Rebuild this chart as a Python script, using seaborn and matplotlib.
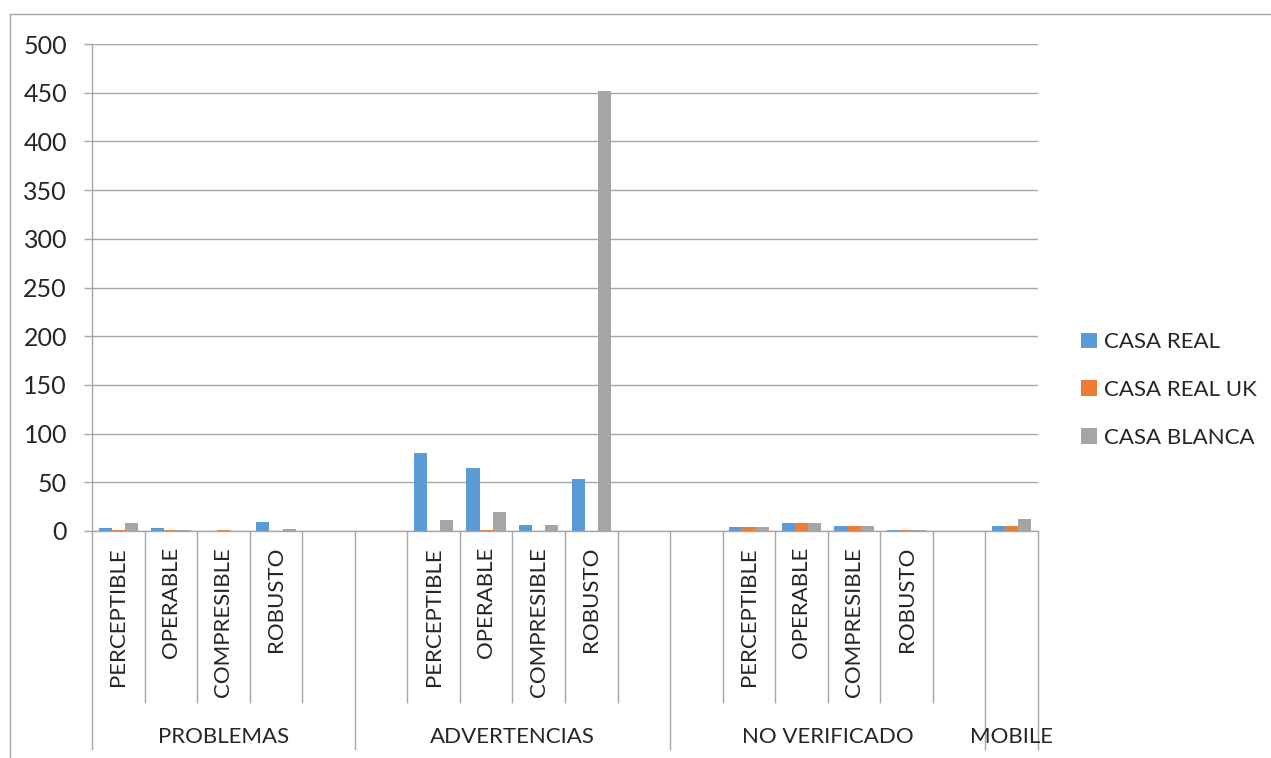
import numpy as np
import pandas as pd
import matplotlib.pyplot as plt
from matplotlib.lines import Line2D
import seaborn as sns

# Category layout (two levels) and series values
groups = ["PROBLEMAS"] * 5 + ["ADVERTENCIAS"] * 6 + ["NO VERIFICADO"] * 6 + ["MOBILE"]
subcats = ["PERCEPTIBLE", "OPERABLE", "COMPRESIBLE", "ROBUSTO", "",
           "", "PERCEPTIBLE", "OPERABLE", "COMPRESIBLE", "ROBUSTO", "",
           "", "PERCEPTIBLE", "OPERABLE", "COMPRESIBLE", "ROBUSTO", "",
           ""]
casa_real = [3, 3, 0, 9, 0,
             0, 80, 65, 6, 53, 0,
             0, 4, 8, 5, 1, 0,
             5]
casa_real_uk = [1, 1, 1, 0, 0,
                0, 0, 1, 0, 0, 0,
                0, 4, 8, 5, 1, 0,
                5]
casa_blanca = [8, 1, 0, 2, 0,
               0, 11, 19, 6, 452, 0,
               0, 4, 8, 5, 1, 0,
               12]
series = ["CASA REAL", "CASA REAL UK", "CASA BLANCA"]
colors = ["#5B9BD5", "#ED7D31", "#A5A5A5"]
yticks = list(range(0, 501, 50))

slots = list(range(len(subcats)))
df = pd.DataFrame({
    "slot": slots * 3,
    "serie": np.repeat(series, len(slots)),
    "valor": casa_real + casa_real_uk + casa_blanca,
})

sns.set_style("white")
plt.rcParams["font.family"] = ["Lato", "DejaVu Sans"]
FS = 16
grid_col = "#a6a6a6"

fig = plt.figure(figsize=(12.71, 7.58), dpi=100)
ax = fig.add_axes([92 / 1271, 1 - 531 / 758, 946 / 1271, 487 / 758])

sns.barplot(data=df, x="slot", y="valor", hue="serie", order=slots,
            hue_order=series, palette=colors, width=0.75, gap=0,
            saturation=1, linewidth=0, errorbar=None, ax=ax)

ax.set_ylim(0, 500)
ax.set_yticks(yticks)
ax.set_xlabel("")
ax.set_ylabel("")
ax.yaxis.grid(True, color=grid_col, linewidth=1)
ax.set_axisbelow(True)
for s in ["top", "right"]:
    ax.spines[s].set_visible(False)
for s in ["left", "bottom"]:
    ax.spines[s].set_color(grid_col)
    ax.spines[s].set_linewidth(1)
ax.tick_params(axis="y", length=6, color=grid_col, width=1, pad=12, labelsize=18, left=True)

# category separators drawn as long ticks below the axis
n = len(subcats)
bounds = [i - 0.5 for i in range(n + 1)]
group_bounds = [-0.5]
for i in range(1, n):
    if groups[i] != groups[i - 1]:
        group_bounds.append(i - 0.5)
group_bounds.append(n - 0.5)
ax.set_xticks(group_bounds)
ax.set_xticklabels([""] * len(group_bounds))
ax.set_xticks([b for b in bounds if b not in group_bounds], minor=True)
ax.tick_params(axis="x", which="major", length=158, color=grid_col, width=1, bottom=True)
ax.tick_params(axis="x", which="minor", length=124, color=grid_col, width=1, bottom=True)

trans = ax.get_xaxis_transform()
for i, lab in enumerate(subcats):
    if lab:
        ax.text(i, -0.033, lab, rotation=90, ha="center", va="top",
                fontsize=FS, transform=trans)
for k in range(len(group_bounds) - 1):
    mid = (group_bounds[k] + group_bounds[k + 1]) / 2
    ax.text(mid, -0.423, groups[int(group_bounds[k] + 0.5)], ha="center",
            va="center", fontsize=FS, transform=trans)

sns.move_legend(ax, "center left", bbox_to_anchor=(1070 / 1271, 1 - 390 / 758),
                bbox_transform=fig.transFigure, frameon=False, title=None,
                fontsize=FS, handlelength=0.7, handleheight=0.7,
                handletextpad=0.35, labelspacing=1.25, borderpad=0)

# outer chart frame (clipped on right and bottom in the reference)
fig.add_artist(Line2D([10 / 1271, 10 / 1271], [0, 1 - 14 / 758], color=grid_col, lw=1))
fig.add_artist(Line2D([10 / 1271, 1], [1 - 14 / 758, 1 - 14 / 758], color=grid_col, lw=1))

plt.savefig("out.png", dpi=100)
plt.close("all")
